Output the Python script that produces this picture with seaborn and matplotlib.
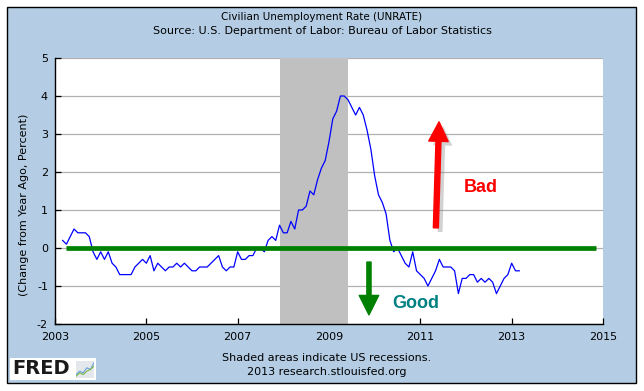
"""FRED chart: Civilian unemployment rate, change from year ago, with good/bad arrows."""
import matplotlib
matplotlib.use("Agg")
from matplotlib import pyplot as plt
from matplotlib import patches, patheffects
import pandas as pd
import seaborn as sns


# monthly change from year ago (percentage points), Mar 2003 .. Mar 2013
start_month = "2003-03-01"
change_pct = [
    0.2, 0.1, 0.3, 0.5, 0.4, 0.4, 0.4, 0.3, -0.1, -0.3,                  # 2003
    -0.1, -0.3, -0.1, -0.4, -0.5, -0.7, -0.7, -0.7, -0.7, -0.5, -0.4, -0.3,  # 2004
    -0.4, -0.2, -0.6, -0.4, -0.5, -0.6, -0.5, -0.5, -0.4, -0.5, -0.4, -0.5,  # 2005
    -0.6, -0.6, -0.5, -0.5, -0.5, -0.4, -0.3, -0.2, -0.5, -0.6, -0.5, -0.5,  # 2006
    -0.1, -0.3, -0.3, -0.2, -0.2, 0.0, 0.0, -0.1, 0.2, 0.3, 0.2, 0.6,    # 2007
    0.4, 0.4, 0.7, 0.5, 1.0, 1.0, 1.1, 1.5, 1.4, 1.8, 2.1, 2.3,          # 2008
    2.8, 3.4, 3.6, 4.0, 4.0, 3.9, 3.7, 3.5, 3.7, 3.5, 3.1, 2.6,          # 2009
    1.9, 1.4, 1.2, 0.9, 0.2, -0.1, 0.0, -0.2, -0.4, -0.5, -0.1, -0.6,    # 2010
    -0.7, -0.8, -1.0, -0.8, -0.6, -0.3, -0.5, -0.5, -0.5, -0.6, -1.2, -0.8,  # 2011
    -0.8, -0.7, -0.7, -0.9, -0.8, -0.9, -0.8, -0.9, -1.2, -1.0, -0.8, -0.7,  # 2012
    -0.4, -0.6, -0.6,                                                    # 2013
]
recession = (2007 + 11 / 12, 2009 + 5 / 12)   # Dec 2007 - Jun 2009
x_ticks = [2003, 2005, 2007, 2009, 2011, 2013, 2015]
y_ticks = [-2, -1, 0, 1, 2, 3, 4, 5]
zero_line_span = (2003.25, 2014.85)
bad_arrow = ((2011.34, 0.53), (2011.41, 3.32))
good_arrow = ((2009.875, -0.37), (2009.875, -1.76))
bad_label = (2012.33, 1.6)
good_label = (2010.90, -1.45)

months = pd.date_range(start_month, periods=len(change_pct), freq="MS")
df = pd.DataFrame({
    "year": months.year + (months.month - 1) / 12,
    "change": change_pct,
})

BG = "#b4cde4"
plt.rcParams["axes.unicode_minus"] = False

fig = plt.figure(figsize=(6.44, 3.91), dpi=100, facecolor="white")
fig.patches.append(patches.Rectangle(
    (7 / 644, 8 / 391), 629 / 644, 376 / 391, transform=fig.transFigure,
    facecolor=BG, edgecolor="black", linewidth=1.0, zorder=-2))

ax = fig.add_axes([55 / 644, 67 / 391, 548 / 644, 266 / 391])
ax.set_facecolor("white")

ax.axvspan(*recession, color="#c0c0c0", lw=0, zorder=1)
sns.lineplot(data=df, x="year", y="change", ax=ax, color="#0000ff",
             linewidth=0.9, zorder=2)
ax.hlines(0, *zero_line_span, color="#008000", linewidth=3.4, zorder=3)

ax.set_xlim(2003, 2015)
ax.set_ylim(-2, 5)
ax.set_xticks(x_ticks)
ax.set_yticks(y_ticks)
ax.set_xlabel("")
ax.set_ylabel("")
ax.yaxis.grid(True, color="#b0b0b0", linewidth=0.9)
ax.xaxis.grid(False)
ax.set_axisbelow(True)
ax.tick_params(direction="in", length=4, width=0.9, labelsize=8,
               colors="black", pad=5)
ax.tick_params(axis="x", pad=6)
for side in ("top", "right"):
    ax.spines[side].set_visible(False)
for side in ("left", "bottom"):
    ax.spines[side].set_linewidth(1.0)
    ax.spines[side].set_color("black")


def arrow(tail, tip, color, tail_w, shadow=False):
    style = patches.ArrowStyle.Simple(head_length=14, head_width=14,
                                      tail_width=tail_w)
    arr = patches.FancyArrowPatch(tail, tip, arrowstyle=style,
                                  mutation_scale=1, color=color,
                                  shrinkA=0, shrinkB=0, zorder=4)
    if shadow:
        arr.set_path_effects([
            patheffects.SimplePatchShadow(offset=(3, -3), shadow_rgbFace="0.5",
                                          alpha=0.35),
            patheffects.Normal(),
        ])
    ax.add_patch(arr)


arrow(*bad_arrow, color="#ff0000", tail_w=3.6, shadow=True)
arrow(*good_arrow, color="#008000", tail_w=3.0)
ax.text(*bad_label, "Bad", color="#ff0000", fontsize=13, fontweight="bold",
        family="Liberation Sans", ha="center", va="center", zorder=5)
ax.text(*good_label, "Good", color="#008080", fontsize=13, fontweight="bold",
        family="Liberation Sans", ha="center", va="center", zorder=5)

# titles and notes
fig.text(322 / 644, 1 - 17 / 391, "Civilian Unemployment Rate (UNRATE)",
         ha="center", va="center", fontsize=7.5)
fig.text(322 / 644, 1 - 31 / 391,
         "Source: U.S. Department of Labor: Bureau of Labor Statistics",
         ha="center", va="center", fontsize=8)
fig.text(24 / 644, 1 - 205 / 391, "(Change from Year Ago, Percent)",
         rotation=90, ha="center", va="center", fontsize=8)
fig.text(327 / 644, 1 - 358 / 391, "Shaded areas indicate US recessions.",
         ha="center", va="center", fontsize=8)
fig.text(327 / 644, 1 - 372 / 391, "2013 research.stlouisfed.org",
         ha="center", va="center", fontsize=8)

# FRED logo
fig.patches.append(patches.Rectangle(
    (10 / 644, 11 / 391), 86 / 644, 22 / 391, transform=fig.transFigure,
    facecolor="white", edgecolor="none", zorder=-1))
fig.text(12 / 644, 1 - 369 / 391, "FRED", fontsize=14, fontweight="bold",
         ha="left", va="center", color="#1a1a1a")
icon = fig.add_axes([76 / 644, 13 / 391, 18 / 644, 17 / 391])
icon.set_facecolor("#e4e8ec")
icon.plot([0, 2, 4, 6, 8, 10], [1, 3, 2, 5, 4, 8], color="#6a9fd8", lw=0.8)
icon.plot([0, 2, 4, 6, 8, 10], [0, 2, 1, 3, 4, 6], color="#7ab648", lw=0.8)
icon.set_xlim(0, 10)
icon.set_ylim(-1, 9)
icon.set_xticks([])
icon.set_yticks([])
for s in icon.spines.values():
    s.set_visible(False)

fig.savefig("out.png", dpi=100, facecolor="white")
